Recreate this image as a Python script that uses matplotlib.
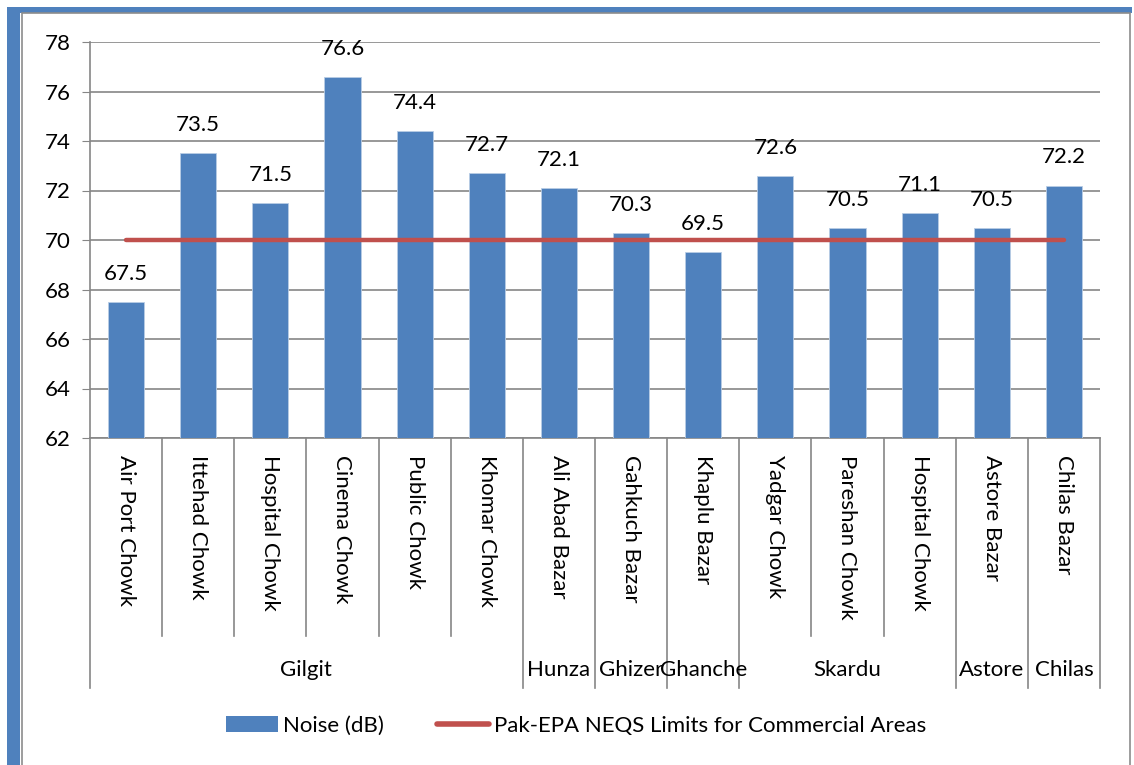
import matplotlib
matplotlib.use("Agg")
import matplotlib.pyplot as plt
from matplotlib.patches import Rectangle
from matplotlib.lines import Line2D
from matplotlib.patches import Patch
import matplotlib.transforms as mtransforms
import numpy as np

plt.rcParams['font.family'] = ['Lato', 'DejaVu Sans']

# data
sites = ['Air Port Chowk', 'Ittehad Chowk', 'Hospital Chowk', 'Cinema Chowk',
         'Public Chowk', 'Khomar Chowk', 'Ali Abad Bazar', 'Gahkuch Bazar',
         'Khaplu Bazar', 'Yadgar Chowk', 'Pareshan Chowk', 'Hospital Chowk',
         'Astore Bazar', 'Chilas Bazar']
noise = [67.5, 73.5, 71.5, 76.6, 74.4, 72.7, 72.1, 70.3, 69.5, 72.6, 70.5, 71.1, 70.5, 72.2]
limit = [70] * len(sites)
districts = ['Gilgit', 'Hunza', 'Ghizer', 'Ghanche', 'Skardu', 'Astore', 'Chilas']
district_size = [6, 1, 1, 1, 3, 1, 1]
y_ticks = [62, 64, 66, 68, 70, 72, 74, 76, 78]

bar_color = '#4F81BD'
line_color = '#C0504D'
grid_color = '#868686'
fs = 16

fig = plt.figure(figsize=(11.34, 7.65), dpi=100)
ax = fig.add_axes([90 / 1134, 1 - 438 / 765, 1010 / 1134, 396 / 765])

x = np.arange(len(sites))
ax.bar(x, noise, width=0.5, color=bar_color, edgecolor='#B9CDE5', linewidth=0.6,
       bottom=0, zorder=3)
ax.plot(x, limit, color=line_color, linewidth=3.2, solid_capstyle='round', zorder=4)

for xi, v in zip(x, noise):
    ax.annotate(f'{v}', (xi, v), xytext=(0, 13), textcoords='offset points',
                ha='center', va='bottom', fontsize=fs, color='black', zorder=5)

ax.set_ylim(62, 78)
ax.set_xlim(-0.5, len(sites) - 0.5)
ax.set_yticks(y_ticks)
ax.tick_params(axis='y', length=6, color=grid_color, labelsize=fs, pad=8)
ax.grid(axis='y', color=grid_color, linewidth=1.2, zorder=0)
ax.set_axisbelow(True)
for s in ['top', 'right']:
    ax.spines[s].set_visible(False)
for s in ['left', 'bottom']:
    ax.spines[s].set_color(grid_color)
    ax.spines[s].set_linewidth(1.2)

ax.set_xticks(x)
ax.set_xticklabels(sites, rotation=270, fontsize=fs, va='top', ha='center')
ax.tick_params(axis='x', length=0, pad=12)

# category separators and district groups below the axis
trans = mtransforms.blended_transform_factory(ax.transData, ax.transAxes)
ax_h = 396
inner_end = -(636 - 438) / ax_h
outer_end = -(688 - 438) / ax_h
group_y = -(670 - 438) / ax_h
edges = np.cumsum([0] + district_size)
group_edges = set(edges.tolist())
for k in range(len(sites) + 1):
    end = outer_end if k in group_edges else inner_end
    ax.plot([k - 0.5, k - 0.5], [0, end], color=grid_color, linewidth=1.2,
            transform=trans, clip_on=False)
for name, a, b in zip(districts, edges[:-1], edges[1:]):
    ax.text((a + b) / 2 - 0.5, group_y, name, transform=trans, ha='center',
            va='center', fontsize=fs)

handles = [Patch(facecolor=bar_color, edgecolor='none'),
           Line2D([0], [0], color=line_color, linewidth=4, solid_capstyle='round')]
fig.legend(handles, ['Noise (dB)', 'Pak-EPA NEQS Limits for Commercial Areas'],
           loc='center', bbox_to_anchor=(576 / 1134, 1 - 726 / 765), ncol=2,
           frameon=False, fontsize=fs, handlelength=2.35, handletextpad=0.2,
           columnspacing=2.4)

# outer frame
W, H = 1134, 765
fig.patches.append(Rectangle((7 / W, 0), 13 / W, 1 - 7 / H, transform=fig.transFigure,
                             facecolor=bar_color, edgecolor='none', zorder=0))
fig.patches.append(Rectangle((7 / W, 1 - 13 / H), 1 - 9 / W, 6 / H, transform=fig.transFigure,
                             facecolor=bar_color, edgecolor='none', zorder=0))
fig.patches.append(Rectangle((22 / W, -0.01), 1108 / W, 1 - 13 / H + 0.01, transform=fig.transFigure,
                             facecolor='none', edgecolor='#8C8C8C', linewidth=1.2, zorder=0))

fig.savefig('out.png', dpi=100)
